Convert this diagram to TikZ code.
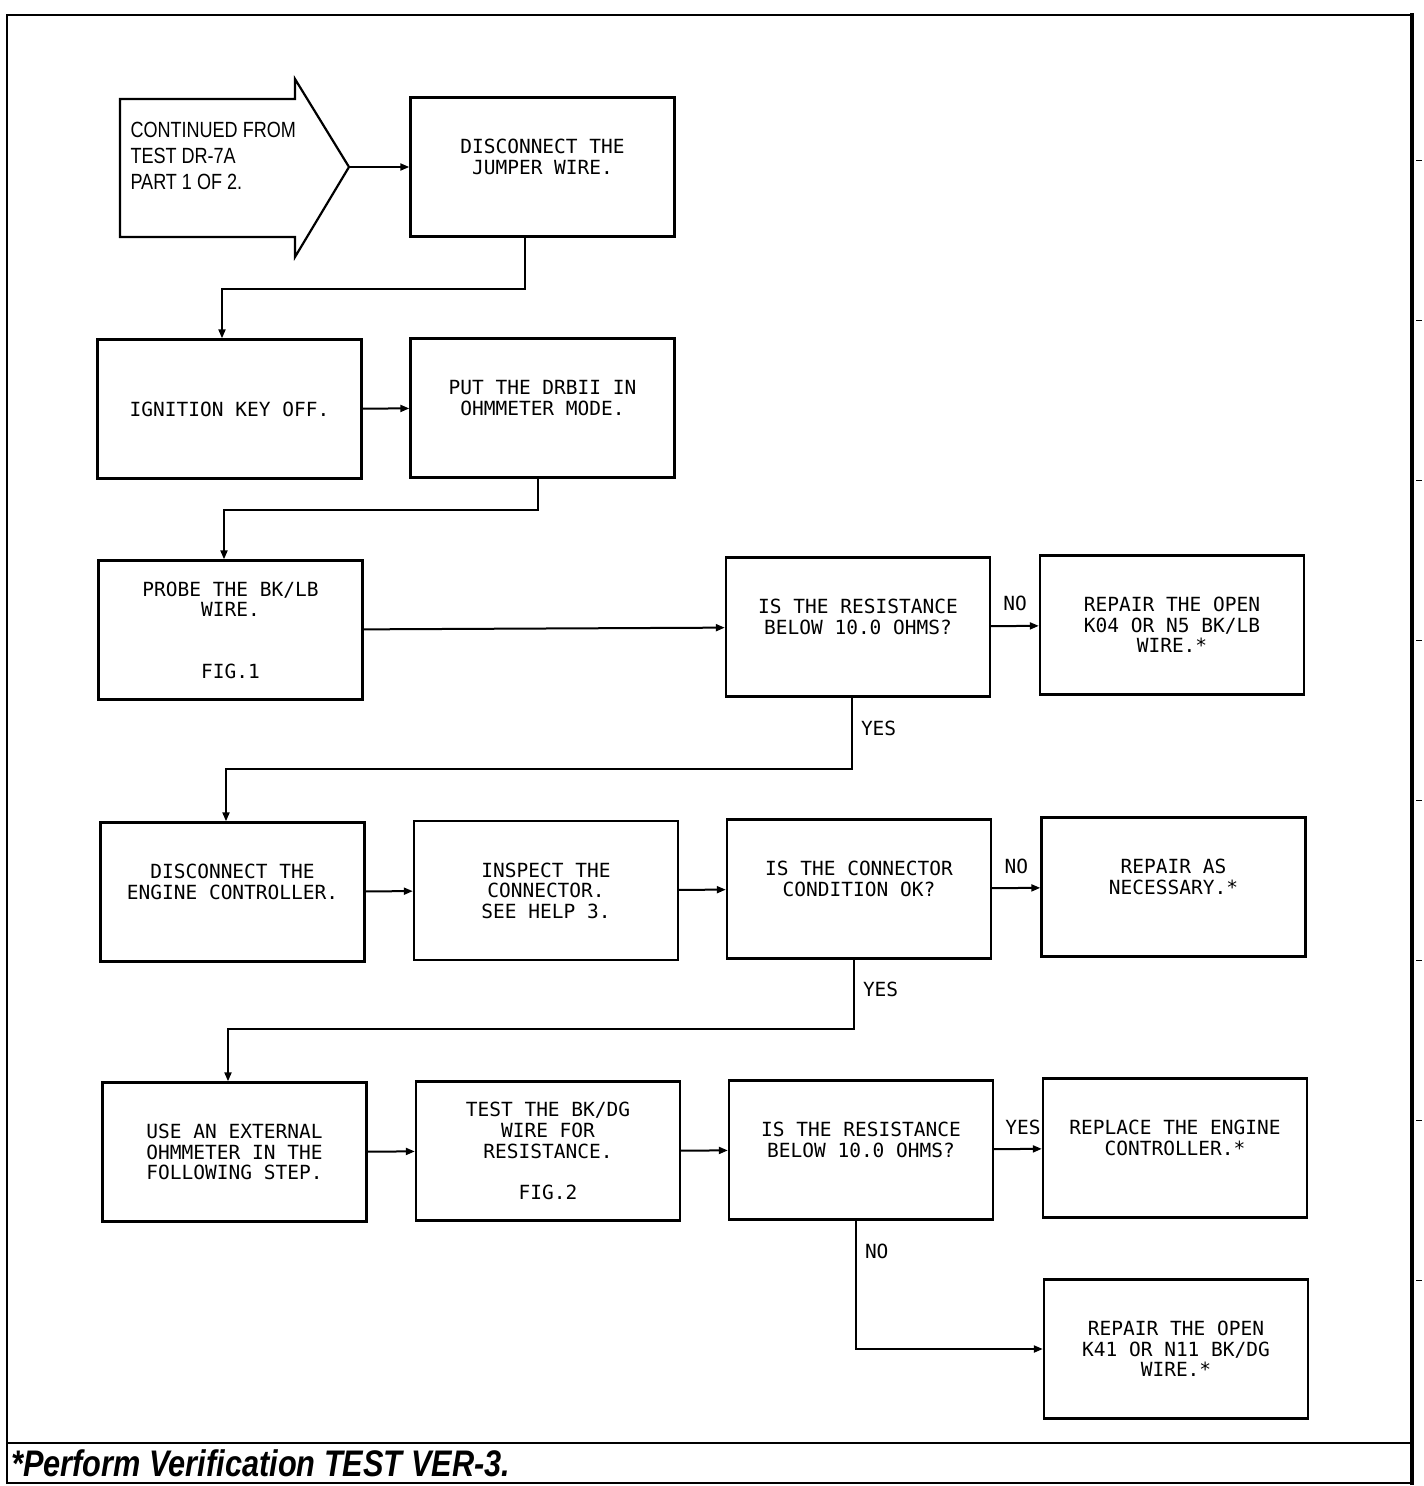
\documentclass[tikz,border=0pt]{standalone}
\usepackage{fontspec}
\usetikzlibrary{arrows.meta}
\newfontfamily\plotfont{DejaVu Sans Mono}
\newfontfamily\narrowfont[FakeStretch=0.82]{Liberation Sans}
\newfontfamily\notefont[FakeStretch=0.83]{Liberation Sans}
\begin{document}
\begin{tikzpicture}[x=1pt,y=-1pt,
    box/.style={draw,line width=2.4pt,minimum width=264pt,minimum height=139pt,align=center,
        font=\plotfont\fontsize{19.5}{20.6}\selectfont},
    arr/.style={line width=2pt,-{Triangle[length=9pt,width=7pt]}},
    lbl/.style={font=\plotfont\fontsize{19.5}{20.6}\selectfont,inner sep=1pt}]
    \useasboundingbox (0,0) rectangle (1424,1486);
    \draw[line width=2.5pt] (7,15) rectangle (1412,1483);
    \draw[line width=2.5pt] (7,1443) -- (1412,1443);
    \draw[line width=4pt] (1412,13) -- (1412,1485);
    \foreach \y in {160,320,...,1280}
        \draw[line width=1pt] (1416,\y) -- (1422,\y);
    \draw[line width=2.2pt] (120,99) -- (295,99) -- (295,79) -- (349,167) coordinate (tip)
        -- (295,257) -- (295,237) -- (120,237) -- cycle;
    \node[anchor=west,align=left,font=\narrowfont\fontsize{22}{26}\selectfont] (from) at (127,156)
        {CONTINUED FROM\\TEST DR-7A\\PART 1 OF 2.};
    \node[box] (jumper) at (542.5,167) {DISCONNECT THE\\JUMPER WIRE.\\ \mbox{}};
    \node[box] (ign) at (229.5,409) {IGNITION KEY OFF.};
    \node[box] (put) at (542.5,408) {PUT THE DRBII IN\\OHMMETER MODE.\\ \mbox{}};
    \node[box] (probe) at (230.5,630) {PROBE THE BK/LB\\WIRE.\\[41pt]FIG.1};
    \node[box] (res1) at (858,627) {IS THE RESISTANCE\\BELOW 10.0 OHMS?\\ \mbox{}};
    \node[box] (rep1) at (1172,625) {REPAIR THE OPEN\\K04 OR N5 BK/LB\\WIRE.*};
    \node[box] (disc) at (232.5,892) {DISCONNECT THE\\ENGINE CONTROLLER.\\ \mbox{}};
    \node[box] (insp) at (546,890.5) {INSPECT THE\\CONNECTOR.\\SEE HELP 3.};
    \node[box] (conn) at (859,889) {IS THE CONNECTOR\\CONDITION OK?\\ \mbox{}};
    \node[box] (repas) at (1173.5,887) {REPAIR AS\\NECESSARY.*\\ \mbox{}};
    \node[box] (use) at (234.5,1152) {USE AN EXTERNAL\\OHMMETER IN THE\\FOLLOWING STEP.};
    \node[box] (test) at (548,1151) {TEST THE BK/DG\\WIRE FOR\\RESISTANCE.\\[20.6pt]FIG.2};
    \node[box] (res2) at (861,1150) {IS THE RESISTANCE\\BELOW 10.0 OHMS?\\ \mbox{}};
    \node[box] (repl) at (1175,1148) {REPLACE THE ENGINE\\CONTROLLER.*\\ \mbox{}};
    \node[box] (rep2) at (1176,1349) {REPAIR THE OPEN\\K41 OR N11 BK/DG\\WIRE.*};
    \draw[arr] (tip) -- (jumper);
    \draw[arr] ([xshift=-17.5pt]jumper.south) -- ++(0,51) -| ([xshift=-7.5pt]ign.north);
    \draw[arr] (ign) -- (put);
    \draw[arr] ([xshift=-4.5pt]put.south) -- ++(0,31) -| ([xshift=-6.5pt]probe.north);
    \draw[arr] (probe) -- (res1);
    \draw[arr] (res1) -- node[lbl,above=13pt]{NO} (rep1);
    \draw[arr] ([xshift=-6pt]res1.south) -- ++(0,71) node[lbl,pos=0.43,right=7pt]{YES}
        -| ([xshift=-6.5pt]disc.north);
    \draw[arr] (disc) -- (insp);
    \draw[arr] (insp) -- (conn);
    \draw[arr] (conn) -- node[lbl,above=12pt]{NO} (repas);
    \draw[arr] ([xshift=-5pt]conn.south) -- ++(0,69) node[lbl,pos=0.43,right=7pt]{YES}
        -| ([xshift=-6.5pt]use.north);
    \draw[arr] (use) -- (test);
    \draw[arr] (test) -- (res2);
    \draw[arr] (res2) -- node[lbl,above=12pt,xshift=5pt]{YES} (repl);
    \draw[arr] ([xshift=-5pt]res2.south) |- node[lbl,pos=0.12,right=7pt]{NO} (rep2);
    \node[anchor=west,inner sep=0pt,font=\notefont\bfseries\itshape\fontsize{37}{40}\selectfont]
        (note) at (11,1463) {*Perform Verification TEST VER-3.};
\end{tikzpicture}
\end{document}
